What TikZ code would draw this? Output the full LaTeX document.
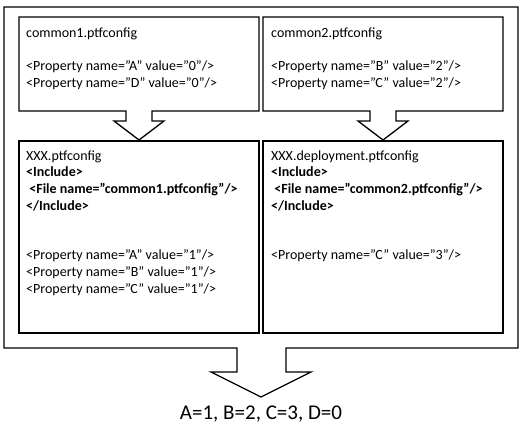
\documentclass[tikz,border=0pt]{standalone}
\usepackage{fontspec}
\setmainfont{Carlito}
\begin{document}
\begin{tikzpicture}[x=1pt,y=-1pt,
  outline/.style={draw=black,line width=1.3pt,line join=miter,fill=white},
  txt/.style={anchor=north west,inner sep=0pt,align=left,font=\fontsize{14}{16.6}\selectfont}]
\useasboundingbox (0,0) rectangle (522,427);
% outer callout
\draw[outline] (4,7) -- (518,7) -- (518,348) -- (286,348) -- (286,372) -- (311,372)
  -- (261,397) -- (211,372) -- (237,372) -- (237,348) -- (4,348) -- cycle;
% top-left callout
\draw[outline] (19,17) -- (259,17) -- (259,111) -- (152,111) -- (152,121) -- (164,121)
  -- (139,140) -- (114,121) -- (126,121) -- (126,111) -- (19,111) -- cycle;
% top-right callout
\draw[outline] (263,17) -- (503,17) -- (503,111) -- (396,111) -- (396,121) -- (408,121)
  -- (383,140) -- (358,121) -- (370,121) -- (370,111) -- (263,111) -- cycle;
% bottom boxes
\draw[outline] (19,141) rectangle (259,333);
\draw[outline] (263,141) rectangle (503,333);
% texts
\node[txt] (c1) at (26,25.4) {\strut common1.ptfconfig\\ \strut\\
  \strut<Property name=”A” value=”0"/>\\
  \strut<Property name=”D” value=”0"/>};
\node[txt] (c2) at (271,25.4) {\strut common2.ptfconfig\\ \strut\\
  \strut<Property name=”B” value=”2"/>\\
  \strut<Property name=”C” value=”2"/>};
\node[txt] (x1) at (26,148.4) {\strut XXX.ptfconfig\\
  \strut\textbf{<Include>}\\
  \strut\textbf{\ <File name=”common1.ptfconfig”/>}\\
  \strut\textbf{</Include>}\\ \strut\\ \strut\\
  \strut<Property name=”A” value=”1"/>\\
  \strut<Property name=”B” value=”1"/>\\
  \strut<Property name=”C” value=”1"/>};
\node[txt] (x2) at (271,148.4) {\strut XXX.deployment.ptfconfig\\
  \strut\textbf{<Include>}\\
  \strut\textbf{\ <File name=”common2.ptfconfig”/>}\\
  \strut\textbf{</Include>}\\ \strut\\ \strut\\
  \strut<Property name=”C” value=”3"/>};
\node[anchor=base,inner sep=0pt,font=\fontsize{21}{25}\selectfont] (res) at (261,420) {A=1, B=2, C=3, D=0};
\end{tikzpicture}
\end{document}
